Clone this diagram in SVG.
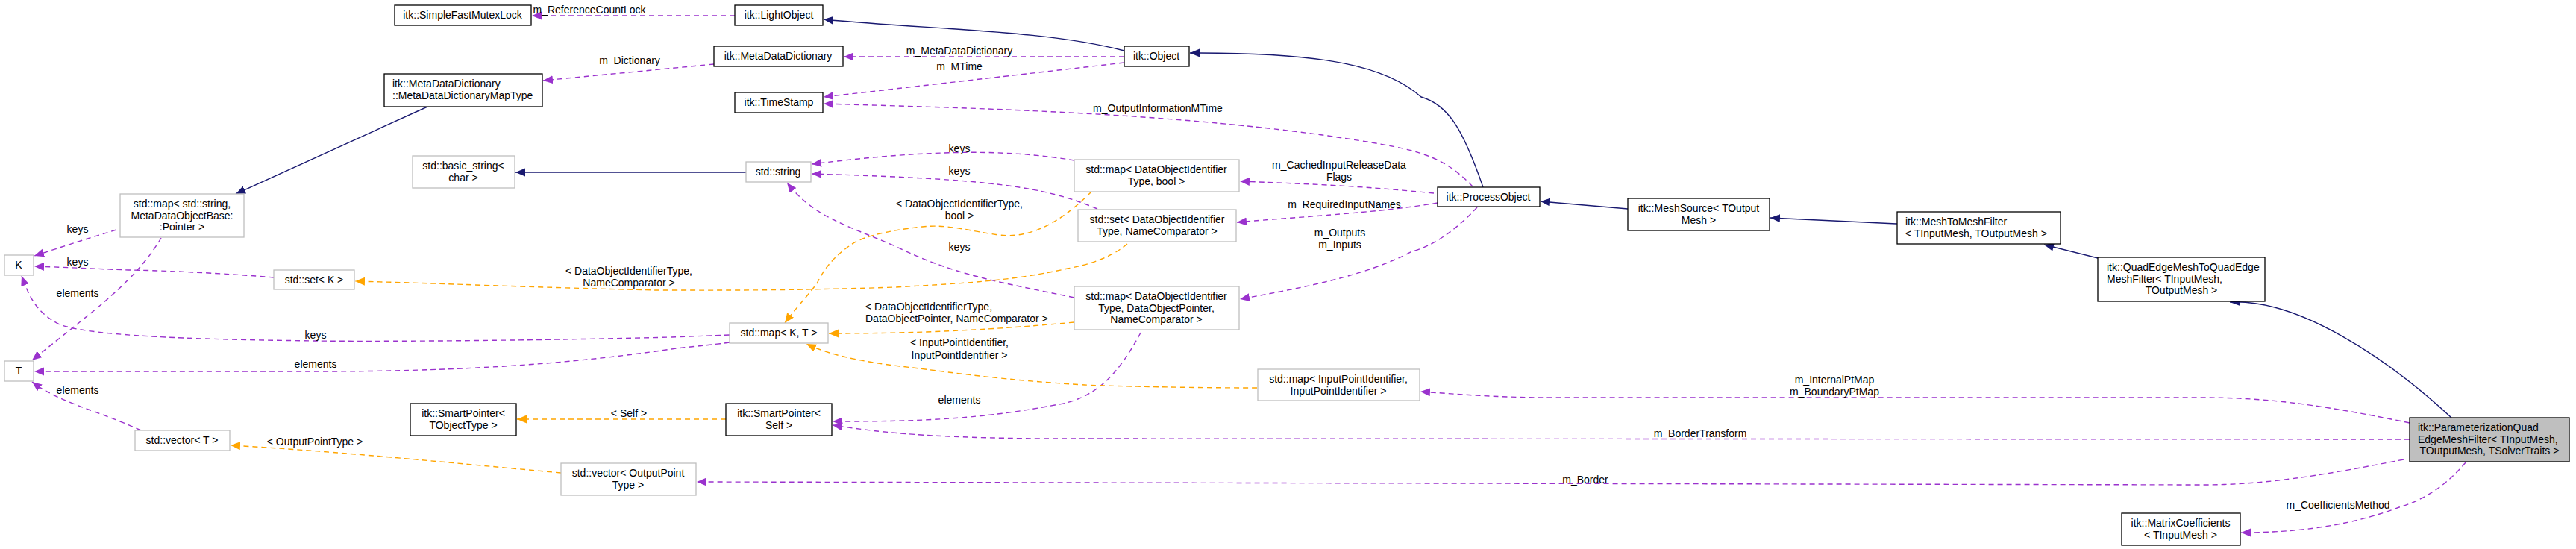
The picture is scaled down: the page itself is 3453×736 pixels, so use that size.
<svg xmlns="http://www.w3.org/2000/svg" width="3453" height="736" viewBox="0 0 3453 736">
<defs>
<style>
text{font-family:"Liberation Sans",Arial,sans-serif;font-size:14px;fill:#000}
.m{text-anchor:middle}
.s{text-anchor:start}
.b{fill:#fff;stroke:#000;stroke-width:1.3}
.g{fill:#fff;stroke:#bfbfbf;stroke-width:1.3}
.h{fill:#bfbfbf;stroke:#000;stroke-width:1.3}
.inh{fill:none;stroke:#191970;stroke-width:1.4}
.use{fill:none;stroke:#9a32cd;stroke-width:1.4;stroke-dasharray:7,5}
.tpl{fill:none;stroke:#ffa500;stroke-width:1.4;stroke-dasharray:7,5}
</style>
<marker id="an" markerUnits="userSpaceOnUse" markerWidth="14" markerHeight="12" refX="13" refY="5.5" orient="auto"><path d="M0,0 L13,5.5 L0,11 z" fill="#191970"/></marker>
<marker id="ap" markerUnits="userSpaceOnUse" markerWidth="14" markerHeight="12" refX="13" refY="5.5" orient="auto"><path d="M0,0 L13,5.5 L0,11 z" fill="#9a32cd"/></marker>
<marker id="ao" markerUnits="userSpaceOnUse" markerWidth="14" markerHeight="12" refX="13" refY="5.5" orient="auto"><path d="M0,0 L13,5.5 L0,11 z" fill="#ffa500"/></marker>
</defs>
<rect width="3453" height="736" fill="#fff"/>
<g id="edges">
<path class="inh" marker-end="url(#an)" d="M573,143 L316,260"/>
<path class="inh" marker-end="url(#an)" d="M1000,231 L691,231"/>
<path class="inh" marker-end="url(#an)" d="M1507,68 C1400,40 1250,40 1104,26"/>
<path class="inh" marker-end="url(#an)" d="M1988,251 C1960,170 1940,140 1905,130 C1860,90 1780,70 1595,71"/>
<path class="inh" marker-end="url(#an)" d="M2182,280 L2065,270"/>
<path class="inh" marker-end="url(#an)" d="M2543,300 L2373,292"/>
<path class="inh" marker-end="url(#an)" d="M2812,346 L2740,328"/>
<path class="inh" marker-end="url(#an)" d="M3286,560 C3200,480 3080,400 2989,405"/>
<path class="use" marker-end="url(#ap)" d="M985,21 L713,21"/>
<text class="m" x="790" y="18">m_ReferenceCountLock</text>
<path class="use" marker-end="url(#ap)" d="M957,86 L728,108"/>
<text class="m" x="844" y="86">m_Dictionary</text>
<path class="use" marker-end="url(#ap)" d="M1507,76 L1131,76"/>
<text class="m" x="1286" y="73">m_MetaDataDictionary</text>
<path class="use" marker-end="url(#ap)" d="M1507,84 L1104,130"/>
<text class="m" x="1286" y="94">m_MTime</text>
<path class="use" marker-end="url(#ap)" d="M1974,250 C1930,205 1900,200 1780,182 C1550,150 1300,145 1104,139"/>
<text class="m" x="1552" y="150">m_OutputInformationMTime</text>
<path class="use" marker-end="url(#ap)" d="M1440,215 C1350,200 1250,200 1088,220"/>
<text class="m" x="1286" y="204">keys</text>
<path class="use" marker-end="url(#ap)" d="M1471,280 C1400,250 1330,240 1088,233"/>
<text class="m" x="1286" y="234">keys</text>
<path class="use" marker-end="url(#ap)" d="M1440,399 C1350,380 1280,370 1200,330 C1130,300 1090,290 1055,245"/>
<text class="m" x="1286" y="336">keys</text>
<path class="use" marker-end="url(#ap)" d="M1922,259 C1850,252 1800,248 1662,243"/>
<text class="m" x="1795" y="226">m_CachedInputReleaseData</text>
<text class="m" x="1795" y="242">Flags</text>
<path class="use" marker-end="url(#ap)" d="M1927,272 C1850,285 1750,290 1658,298"/>
<text class="m" x="1802" y="279">m_RequiredInputNames</text>
<path class="use" marker-end="url(#ap)" d="M1980,278 C1950,310 1920,330 1893,337 C1830,370 1750,385 1662,401"/>
<text class="m" x="1796" y="317">m_Outputs</text>
<text class="m" x="1796" y="333">m_Inputs</text>
<path class="use" marker-end="url(#ap)" d="M1529,446 C1500,500 1470,535 1414,543 C1300,565 1200,565 1116,565"/>
<text class="m" x="1286" y="541">elements</text>
<path class="use" marker-end="url(#ap)" d="M3230,589 L1400,588 C1250,587 1180,580 1116,570"/>
<text class="m" x="2279" y="586">m_BorderTransform</text>
<path class="use" marker-end="url(#ap)" d="M3230,567 C3100,540 3030,533 2952,533 L2082,533 C2000,533 1950,528 1904,525"/>
<text class="m" x="2459" y="514">m_InternalPtMap</text>
<text class="m" x="2459" y="530">m_BoundaryPtMap</text>
<path class="use" marker-end="url(#ap)" d="M3222,616 C3100,640 3030,650 2952,650 L934,646"/>
<text class="m" x="2125" y="648">m_Border</text>
<path class="use" marker-end="url(#ap)" d="M3305,620 C3280,650 3250,670 3216,680 C3150,705 3080,714 3004,714"/>
<text class="m" x="3134" y="682">m_CoefficientsMethod</text>
<path class="use" marker-end="url(#ap)" d="M156,308 C110,322 80,332 46,343"/>
<text class="m" x="104" y="312">keys</text>
<path class="use" marker-end="url(#ap)" d="M367,372 C300,366 200,362 172,362 C120,360 80,358 46,357"/>
<text class="m" x="104" y="356">keys</text>
<path class="use" marker-end="url(#ap)" d="M216,319 C180,380 120,420 43,483"/>
<text class="m" x="104" y="398">elements</text>
<path class="use" marker-end="url(#ap)" d="M978,449 L900,452 C700,457 500,458 423,457 C250,455 120,450 80,435 C50,420 40,400 29,370"/>
<text class="m" x="423" y="454">keys</text>
<path class="use" marker-end="url(#ap)" d="M978,459 C950,463 920,465 900,468 C750,490 600,498 423,498 C300,498 150,498 46,498"/>
<text class="m" x="423" y="493">elements</text>
<path class="use" marker-end="url(#ap)" d="M189,577 C130,550 80,540 43,512"/>
<text class="m" x="104" y="528">elements</text>
<path class="tpl" marker-end="url(#ao)" d="M1511,327 C1490,345 1460,355 1431,360 C1350,378 1282,380 1200,385 C1050,390 950,389 880,389 C700,385 600,380 476,377"/>
<text class="m" x="843" y="368">&lt; DataObjectIdentifierType,</text>
<text class="m" x="843" y="384">NameComparator &gt;</text>
<path class="tpl" marker-end="url(#ao)" d="M1463,257 C1420,300 1380,320 1339,315 C1300,310 1270,300 1236,304 C1180,310 1150,320 1138,330 C1110,350 1100,370 1095,380 C1080,400 1065,415 1052,433"/>
<text class="m" x="1286" y="278">&lt; DataObjectIdentifierType,</text>
<text class="m" x="1286" y="294">bool &gt;</text>
<path class="tpl" marker-end="url(#ao)" d="M1440,432 C1300,445 1200,447 1111,447"/>
<text class="s" x="1160" y="416">&lt; DataObjectIdentifierType,</text>
<text class="s" x="1160" y="432">DataObjectPointer, NameComparator &gt;</text>
<path class="tpl" marker-end="url(#ao)" d="M1685,520 C1600,520 1500,518 1454,516 C1350,510 1280,500 1224,493 C1150,485 1110,475 1081,461"/>
<text class="m" x="1286" y="464">&lt; InputPointIdentifier,</text>
<text class="m" x="1286" y="481">InputPointIdentifier &gt;</text>
<path class="tpl" marker-end="url(#ao)" d="M973,562 L693,562"/>
<text class="m" x="843" y="559">&lt; Self &gt;</text>
<path class="tpl" marker-end="url(#ao)" d="M752,634 C600,620 450,605 309,597"/>
<text class="m" x="422" y="597">&lt; OutputPointType &gt;</text>
</g>
<g id="n_mutex"><rect class="b" x="529" y="7" width="183" height="27"/><text class="m" x="620" y="25">itk::SimpleFastMutexLock</text></g>
<g id="n_light"><rect class="b" x="985" y="7" width="118" height="27"/><text class="m" x="1044" y="25">itk::LightObject</text></g>
<g id="n_mdd"><rect class="b" x="957" y="62" width="173" height="27"/><text class="m" x="1043" y="80">itk::MetaDataDictionary</text></g>
<g id="n_object"><rect class="b" x="1507" y="62" width="87" height="27"/><text class="m" x="1550" y="80">itk::Object</text></g>
<g id="n_ts"><rect class="b" x="985" y="124" width="118" height="27"/><text class="m" x="1044" y="142">itk::TimeStamp</text></g>
<g id="n_mddmap"><rect class="b" x="515" y="99" width="212" height="44"/><text class="s" x="526" y="117">itk::MetaDataDictionary</text><text class="s" x="526" y="133">::MetaDataDictionaryMapType</text></g>
<g id="n_bstr"><rect class="g" x="553" y="209" width="137" height="43"/><text class="m" x="621" y="227">std::basic_string&lt;</text><text class="m" x="621" y="243">char &gt;</text></g>
<g id="n_str"><rect class="g" x="1000" y="217" width="87" height="27"/><text class="m" x="1043" y="235">std::string</text></g>
<g id="n_mapbool"><rect class="g" x="1440" y="214" width="221" height="43"/><text class="m" x="1550" y="232">std::map&lt; DataObjectIdentifier</text><text class="m" x="1550" y="248">Type, bool &gt;</text></g>
<g id="n_setnc"><rect class="g" x="1445" y="281" width="212" height="43"/><text class="m" x="1551" y="299">std::set&lt; DataObjectIdentifier</text><text class="m" x="1551" y="315">Type, NameComparator &gt;</text></g>
<g id="n_mapstr"><rect class="g" x="161" y="260" width="166" height="58"/><text class="m" x="244" y="278">std::map&lt; std::string,</text><text class="m" x="244" y="294">MetaDataObjectBase:</text><text class="m" x="244" y="309">:Pointer &gt;</text></g>
<g id="n_K"><rect class="g" x="6" y="342" width="39" height="27"/><text class="m" x="25" y="360">K</text></g>
<g id="n_setK"><rect class="g" x="367" y="362" width="108" height="26"/><text class="m" x="421" y="380">std::set&lt; K &gt;</text></g>
<g id="n_T"><rect class="g" x="6" y="484" width="39" height="27"/><text class="m" x="25" y="502">T</text></g>
<g id="n_vecT"><rect class="g" x="181" y="577" width="127" height="27"/><text class="m" x="244" y="595">std::vector&lt; T &gt;</text></g>
<g id="n_spT"><rect class="b" x="550" y="541" width="142" height="43"/><text class="m" x="621" y="559">itk::SmartPointer&lt;</text><text class="m" x="621" y="575">TObjectType &gt;</text></g>
<g id="n_vecOP"><rect class="g" x="752" y="621" width="181" height="43"/><text class="m" x="842" y="639">std::vector&lt; OutputPoint</text><text class="m" x="842" y="655">Type &gt;</text></g>
<g id="n_mapKT"><rect class="g" x="978" y="433" width="132" height="27"/><text class="m" x="1044" y="451">std::map&lt; K, T &gt;</text></g>
<g id="n_mapdop"><rect class="g" x="1440" y="384" width="221" height="58"/><text class="m" x="1550" y="402">std::map&lt; DataObjectIdentifier</text><text class="m" x="1550" y="418">Type, DataObjectPointer,</text><text class="m" x="1550" y="433">NameComparator &gt;</text></g>
<g id="n_spSelf"><rect class="b" x="973" y="541" width="142" height="43"/><text class="m" x="1044" y="559">itk::SmartPointer&lt;</text><text class="m" x="1044" y="575">Self &gt;</text></g>
<g id="n_mapipi"><rect class="g" x="1686" y="495" width="217" height="42"/><text class="m" x="1794" y="513">std::map&lt; InputPointIdentifier,</text><text class="m" x="1794" y="529">InputPointIdentifier &gt;</text></g>
<g id="n_po"><rect class="b" x="1927" y="251" width="137" height="26"/><text class="m" x="1995" y="269">itk::ProcessObject</text></g>
<g id="n_ms"><rect class="b" x="2182" y="266" width="190" height="43"/><text class="m" x="2277" y="284">itk::MeshSource&lt; TOutput</text><text class="m" x="2277" y="300">Mesh &gt;</text></g>
<g id="n_m2m"><rect class="b" x="2543" y="284" width="219" height="43"/><text class="s" x="2554" y="302">itk::MeshToMeshFilter</text><text class="s" x="2554" y="318">&lt; TInputMesh, TOutputMesh &gt;</text></g>
<g id="n_qe"><rect class="b" x="2812" y="345" width="224" height="59"/><text class="s" x="2824" y="363">itk::QuadEdgeMeshToQuadEdge</text><text class="s" x="2824" y="379">MeshFilter&lt; TInputMesh,</text><text class="m" x="2924" y="394">TOutputMesh &gt;</text></g>
<g id="n_param"><rect class="h" x="3230" y="560" width="214" height="59"/><text class="s" x="3241" y="578">itk::ParameterizationQuad</text><text class="s" x="3241" y="594">EdgeMeshFilter&lt; TInputMesh,</text><text class="m" x="3337" y="609">TOutputMesh, TSolverTraits &gt;</text></g>
<g id="n_mc"><rect class="b" x="2844" y="688" width="159" height="43"/><text class="m" x="2923" y="706">itk::MatrixCoefficients</text><text class="m" x="2923" y="722">&lt; TInputMesh &gt;</text></g>
</svg>
